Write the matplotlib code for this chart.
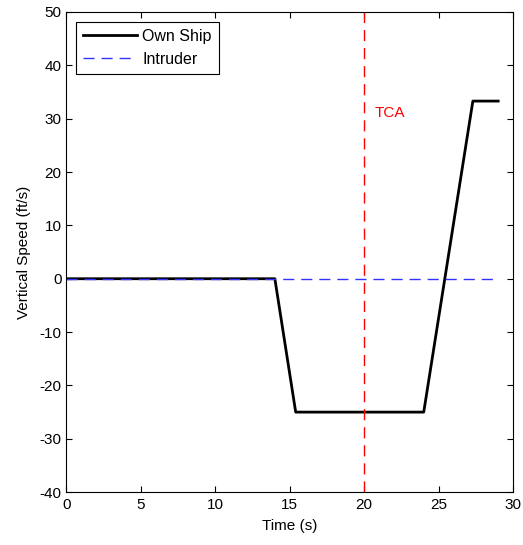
import matplotlib
matplotlib.use("Agg")
import matplotlib.pyplot as plt

plt.rcParams['font.family'] = ['Liberation Sans', 'DejaVu Sans']
plt.rcParams['axes.unicode_minus'] = False

# own ship vertical speed profile (ft/s)
own_t = [0, 14.0, 15.4, 24.0, 27.3, 29.0]
own_v = [0, 0, -25, -25, 33.3, 33.3]

# intruder keeps level
intr_t = [0, 29.0]
intr_v = [0, 0]

t_tca = 20
xticks = [0, 5, 10, 15, 20, 25, 30]
yticks = [-40, -30, -20, -10, 0, 10, 20, 30, 40, 50]

fig = plt.figure(figsize=(5.23, 5.45), dpi=100)
ax = fig.add_axes([0.127, 0.097, 0.854, 0.881])

ax.plot(own_t, own_v, color='black', lw=2, label='Own Ship')
ax.plot(intr_t, intr_v, color='#3333ff', lw=1, dashes=(8, 5), label='Intruder')
ax.axvline(t_tca, color='red', lw=1, dashes=(8, 5))
ax.text(20.7, 31, 'TCA', color='red', fontsize=11, va='center', ha='left')

ax.set_xlim(0, 30)
ax.set_ylim(-40, 50)
ax.set_xticks(xticks)
ax.set_yticks(yticks)
ax.tick_params(direction='in', top=True, right=True, labelsize=11, length=4)
ax.tick_params(axis='x', pad=4)
ax.set_xlabel('Time (s)', fontsize=11, labelpad=5)
ax.set_ylabel('Vertical Speed (ft/s)', fontsize=11, labelpad=6)

leg = ax.legend(loc='upper left', fontsize=11.5, fancybox=False, framealpha=1,
                edgecolor='black', handlelength=3.4, borderaxespad=0.6,
                borderpad=0.45, labelspacing=0.5, handletextpad=0.3)
leg.get_frame().set_linewidth(0.8)

fig.savefig('out.png', dpi=100)
